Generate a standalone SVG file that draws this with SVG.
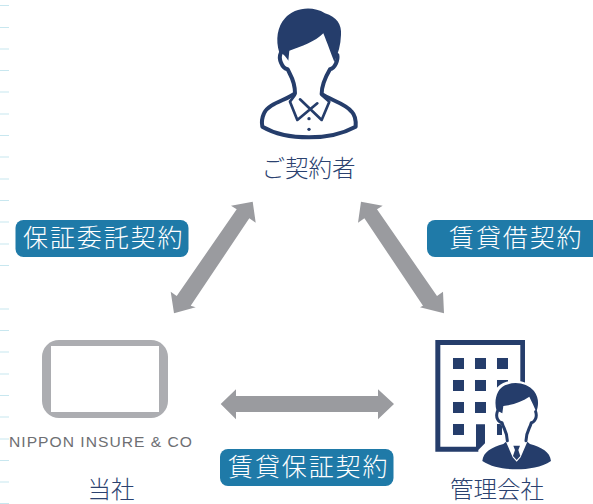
<svg xmlns="http://www.w3.org/2000/svg" width="593" height="504" viewBox="0 0 593 504">
<style>
.bg{fill:#fff}
.tick{stroke:#c8e7ef;stroke-width:1.2;fill:none}
.navy{fill:#253d6b}
.ol{fill:none;stroke:#253d6b;stroke-linejoin:round;stroke-linecap:round}
.arrow{fill:#9a9b9f}
.pill{fill:#1f7aa8}
.pt{fill:#fff;font-family:"Noto Sans CJK JP","Noto Sans",sans-serif;font-size:25px;font-weight:300;letter-spacing:1.9px}
.lb{fill:#2b4270;font-family:"Noto Sans CJK JP","Noto Sans",sans-serif;font-size:23.500px;font-weight:300;text-anchor:middle}
</style>
<rect class="bg" width="593" height="504"/>
<g id="ticks">
<path class="tick" d="M0 5.500h9M0 27.500h9M0 49h9M0 70.500h9M0 92h9M0 114h9M0 135.500h9M0 157h9M0 179h9M0 200.500h9M0 222h9M0 244h9M0 265.500h9M0 309h9M0 330.500h9M0 352h9M0 374h9M0 395.500h9M0 417h9M0 439h9M0 460.500h9M0 482h9M0 503.500h9"/>
</g>
<g id="connectors">
<polygon class="arrow" points="252.700,201.700 255.700,222.700 249.300,218.300 190.700,305.700 195.700,307.300 174,313.300 170.700,291.700 176.700,296 236.700,209.300 231,205.700"/>
<polygon class="arrow" points="361,201.700 382.700,205.700 377,209.300 437,296 443,291.700 444,313.300 420,307.300 423,305.700 364.400,218.300 358,222.700"/>
<polygon class="arrow" points="220.700,404 236,389.300 236,396 378,396 378,389.300 394,404 378,419.300 378,412 236,412 236,419.300"/>
</g>
<g id="customer">
<g transform="translate(240 0) scale(.3333)">
<path class="navy" d="M118 158C106 120 112 80 135 55C160 25 215 15 255 40C290 50 306 75 303 105C302 135 295 160 283 186C275 165 262 130 250 100C225 125 185 140 148 152L145 182C138 170 130 160 118 158Z"/>
<path class="ol" stroke-width="12" d="M122 160C115 175 125 205 143 208C150 225 165 240 165 280C140 300 85 310 72 340C65 355 65 370 67 380C110 405 160 412 207 412C260 412 310 400 347 380C348 365 345 345 335 335C315 310 270 300 245 282C245 250 260 225 270 208C285 205 295 180 292 165"/>
<path class="ol" stroke-width="8" d="M165 285L150 305L172 360L232 310M245 285L268 305L245 360L180 298"/>
<circle class="navy" cx="207" cy="356" r="5"/>
<circle class="navy" cx="207" cy="388" r="5"/>
</g>
<text class="lb" x="308.500" y="177">ご契約者</text>
</g>
<g id="company">
<rect x="42" y="340" width="126" height="78" rx="17" fill="#acadb1"/>
<rect x="51" y="346" width="108" height="66" fill="#fff"/>
<text x="9" y="447" textLength="184" lengthAdjust="spacingAndGlyphs" style="font-family:'Liberation Sans',sans-serif;font-size:15.500px;fill:#6e6f73;letter-spacing:1px">NIPPON INSURE &amp; CO</text>
<text class="lb" x="111" y="498">当社</text>
</g>
<g id="manager">
<g transform="translate(420 330) scale(.3333)">
<path class="navy" fill-rule="evenodd" d="M46 30H315V365H46ZM61 45V350H168V283H195V350H301V45Z"/>
<g class="navy">
<rect x="99" y="84" width="33" height="33"/><rect x="165" y="84" width="33" height="33"/><rect x="231" y="84" width="33" height="33"/>
<rect x="99" y="150" width="33" height="33"/><rect x="165" y="150" width="33" height="33"/><rect x="231" y="150" width="33" height="33"/>
<rect x="99" y="216" width="33" height="33"/><rect x="165" y="216" width="33" height="33"/>
<rect x="99" y="282" width="33" height="33"/><rect x="231" y="282" width="33" height="33"/>
</g>
<path fill="#fff" d="M215 210C220 170 250 150 290 152C335 155 370 190 365 240L345 310L405 360V430H175V360L195 340L246 325V288L222 255Z"/>
<path class="navy" d="M230 243C220 210 232 176 255 166C285 152 322 160 342 183C358 205 356 225 349 247C343 230 335 215 328 200C305 215 280 225 250 228L247 250C243 247 238 245 230 243Z"/>
<path class="ol" stroke-width="9" d="M232 245C226 262 235 277 246 278C250 295 262 305 262 332M347 245C353 262 343 277 334 278C330 295 318 305 318 332"/>
<path class="navy" d="M258 335L250 342C215 352 190 365 187 393C215 412 255 418 290 418C325 418 365 412 393 393C390 365 365 352 330 342L322 335L302 382L290 395L278 382Z"/>
<path class="navy" d="M280 347H300L295 360L301 378L290 390L279 378L285 360Z"/>
</g>
<text class="lb" x="497" y="498">管理会社</text>
</g>
<g id="label-hosho">
<rect class="pill" x="15.500" y="220" width="173" height="37" rx="8"/>
<text class="pt" x="23" y="247">保証委託契約</text>
</g>
<g id="label-chintai">
<rect class="pill" x="427" y="220" width="180" height="37" rx="8"/>
<text class="pt" x="449" y="247">賃貸借契約</text>
</g>
<g id="label-chintaihosho">
<rect class="pill" x="220" y="449" width="173.500" height="37" rx="8"/>
<text class="pt" x="228" y="476">賃貸保証契約</text>
</g>
</svg>
